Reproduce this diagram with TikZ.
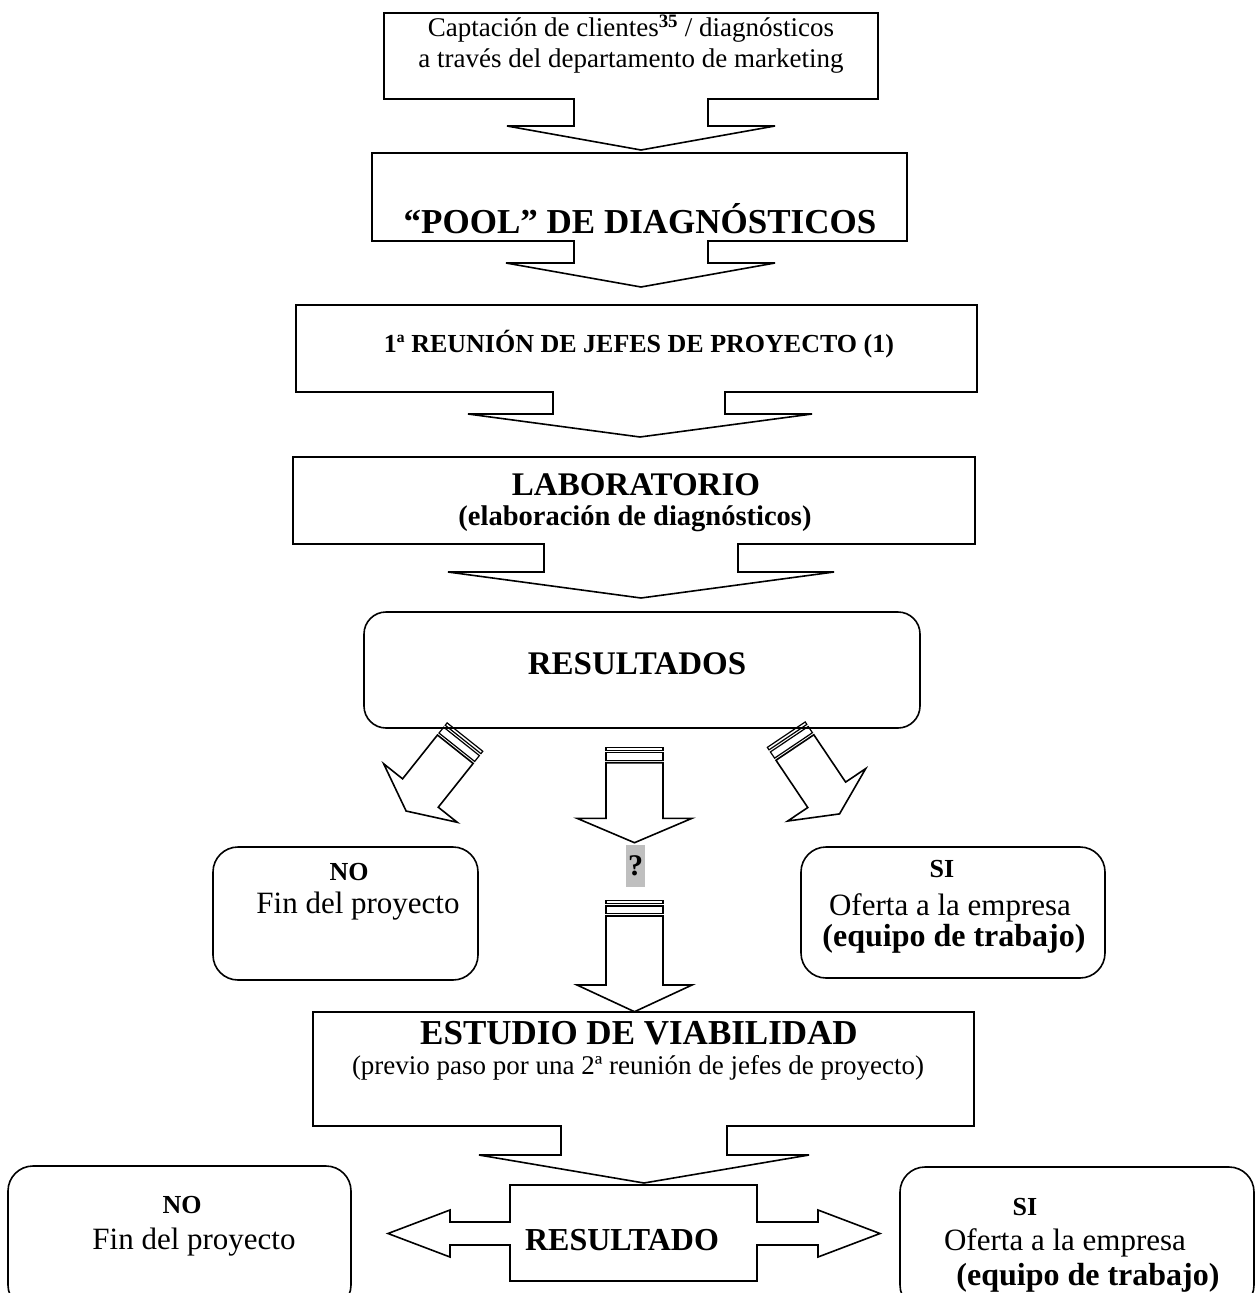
\documentclass[tikz,border=0pt]{standalone}
\usepackage{fontspec}
\setmainfont{Liberation Serif}
\newcommand\stripedArrow[7]{% x y angle halfwidth shaftlen headhalf headlen
  \begin{scope}[shift={(#1,#2)},rotate=#3]
    \draw[shp] (0,-#4) -- (#5,-#4) -- (#5,-#6) -- ({#5+#7},0) -- (#5,#6) -- (#5,#4) -- (0,#4) -- cycle;
    \draw[stripebar] (-10,-#4) rectangle (-2.5,#4);
    \draw[stripebar] (-15.5,-#4) rectangle (-12.5,#4);
  \end{scope}}
\begin{document}
\begin{tikzpicture}[x=1pt,y=-1pt,
  shp/.style={draw=black, line width=1.6pt, line join=miter},
  stripebar/.style={draw=black, line width=1.2pt},
  txt/.style={inner sep=0pt, align=center},
  rg/.style={font=\fontsize{27}{31}\selectfont},
  big/.style={font=\fontsize{31}{35}\selectfont},
  bfsmall/.style={font=\bfseries\fontsize{26}{30}\selectfont},
  bfmid/.style={font=\bfseries\fontsize{32}{36}\selectfont},
  bflarge/.style={font=\bfseries\fontsize{35}{40}\selectfont}]
\useasboundingbox (0,0) rectangle (1257,1293);
\clip (0,0) rectangle (1257,1293);

% box 1 (down arrow callout)
\draw[shp] (384,13) -- (878,13) -- (878,99) -- (708,99) -- (708,126) -- (775,126) -- (641,150)
  -- (507,126) -- (574,126) -- (574,99) -- (384,99) -- cycle;
\node[txt,rg] (t1) at (631,44) {Captación de clientes\textsuperscript{\textbf{35}} / diagnósticos\\a través del departamento de marketing};

% POOL
\draw[shp] (372,153) -- (907,153) -- (907,241) -- (708,241) -- (708,263) -- (775,263) -- (641,287)
  -- (506,263) -- (574,263) -- (574,241) -- (372,241) -- cycle;
\node[txt,bflarge] (pool) at (640,219) {“POOL” DE DIAGNÓSTICOS};

% REUNION
\draw[shp] (296,305) -- (977,305) -- (977,392) -- (725,392) -- (725,414) -- (812,414) -- (640,437)
  -- (468,414) -- (553,414) -- (553,392) -- (296,392) -- cycle;
\node[txt,bfsmall] (reu) at (639,344) {1ª REUNIÓN DE JEFES DE PROYECTO (1)};

% LABORATORIO
\draw[shp] (293,457) -- (975,457) -- (975,544) -- (738,544) -- (738,572) -- (834,572) -- (641,598)
  -- (448,572) -- (544,572) -- (544,544) -- (293,544) -- cycle;
\node[txt,font=\bfseries\fontsize{33}{36}\selectfont] (lab) at (636,485) {LABORATORIO};
\node[txt,font=\bfseries\fontsize{28.5}{32}\selectfont] (labsub) at (635,519) {(elaboración de diagnósticos)};

% RESULTADOS
\draw[shp, rounded corners=22pt] (364,612) rectangle (920,728);
\node[txt,font=\bfseries\fontsize{33}{37}\selectfont] (res) at (637,664) {RESULTADOS};

% striped arrows
\stripedArrow{455.3}{749.2}{231.5}{22.8}{56}{47}{23}
\stripedArrow{794.9}{747.5}{-56.1}{22.8}{57}{47}{23}
\stripedArrow{634.5}{762.7}{-90}{28.5}{55.6}{57.5}{24.4}
\stripedArrow{634.5}{916}{-90}{28.5}{69}{57.5}{26.7}

\node[inner sep=0pt, fill=black!25, minimum width=19pt, minimum height=42pt,
  font=\bfseries\fontsize{30}{34}\selectfont] (q) at (635.5,866) {?};

% NO / SI middle
\draw[shp, rounded corners=25pt] (213,847) rectangle (478,980);
\node[txt,bfsmall] (no1) at (349,872) {NO};
\node[txt,big] (fin1) at (358,906) {Fin del proyecto};
\draw[shp, rounded corners=25pt] (801,847) rectangle (1105,978);
\node[txt,bfsmall] (si1) at (942,869) {SI};
\node[txt,big] (of1) at (950,908) {Oferta a la empresa};
\node[txt,bfmid] (eq1) at (954,939) {(equipo de trabajo)};

% ESTUDIO
\draw[shp] (313,1012) -- (974,1012) -- (974,1126) -- (727,1126) -- (727,1155) -- (809,1155) -- (644,1183)
  -- (479,1155) -- (561,1155) -- (561,1126) -- (313,1126) -- cycle;
\node[txt,bflarge] (est) at (639,1033) {ESTUDIO DE VIABILIDAD};
\node[txt,rg] (estsub) at (638,1068) {(previo paso por una 2ª reunión de jefes de proyecto)};

% RESULTADO (left-right arrow callout)
\draw[shp] (510,1185) -- (757,1185) -- (757,1222) -- (818,1222) -- (818,1210) -- (880,1233.5)
  -- (818,1257) -- (818,1245) -- (757,1245) -- (757,1281) -- (510,1281) -- (510,1245)
  -- (450,1245) -- (450,1257) -- (388,1233.5) -- (450,1210) -- (450,1222) -- (510,1222) -- cycle;
\node[txt,bfmid] (res2) at (622,1240) {RESULTADO};

% bottom NO / SI
\draw[shp, rounded corners=25pt] (8,1166) rectangle (351,1310);
\node[txt,bfsmall] (no2) at (182,1205) {NO};
\node[txt,big] (fin2) at (194,1242) {Fin del proyecto};
\draw[shp, rounded corners=25pt] (900,1167) rectangle (1254,1310);
\node[txt,bfsmall] (si2) at (1025,1207) {SI};
\node[txt,big] (of2) at (1065,1243) {Oferta a la empresa};
\node[txt,bfmid] (eq2) at (1088,1278) {(equipo de trabajo)};
\end{tikzpicture}
\end{document}
